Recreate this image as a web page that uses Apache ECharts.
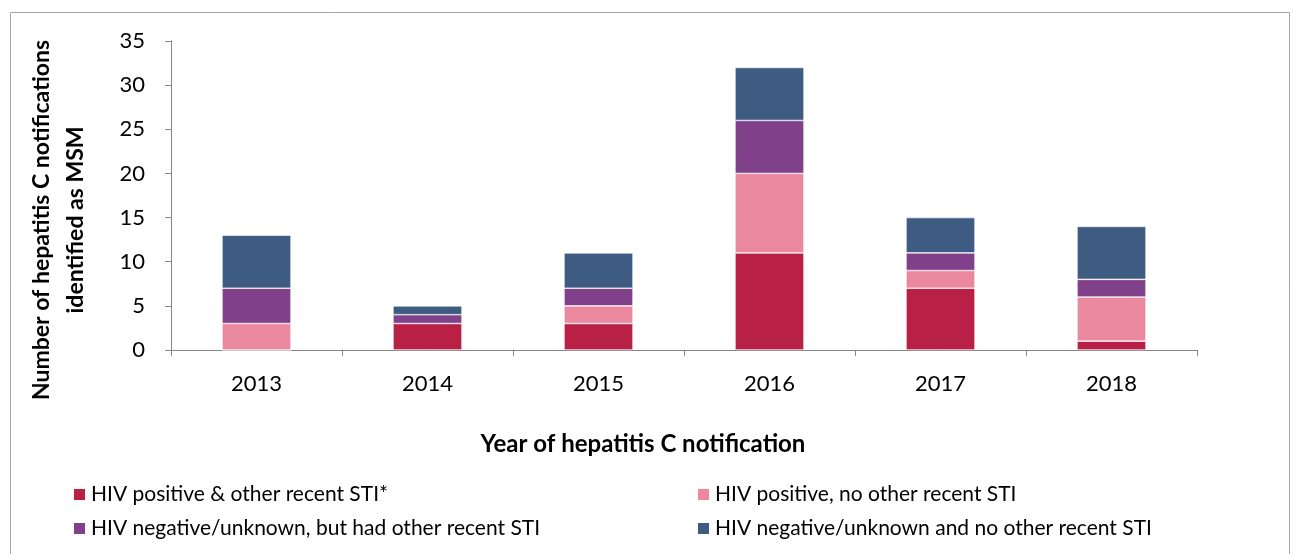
<!DOCTYPE html>
<html><head><meta charset="utf-8">
<script src="https://cdn.jsdelivr.net/npm/echarts@6/dist/echarts.min.js"></script>
<style>html,body{margin:0;padding:0;background:#fff}#c{width:1293px;height:554px}</style>
</head><body><div id="c"></div>
<script>
const categories = ['2013','2014','2015','2016','2017','2018'];
const seriesNames = ['HIV positive & other recent STI*','HIV positive, no other recent STI','HIV negative/unknown, but had other recent STI','HIV negative/unknown and no other recent STI'];
const hivPosSti = [0, 3, 3, 11, 7, 1];
const hivPosNoSti = [3, 0, 2, 9, 2, 5];
const hivNegSti = [4, 1, 2, 6, 2, 2];
const hivNegNoSti = [6, 1, 4, 6, 4, 6];
const yTitle = 'Number of hepatitis C notifications\nidentified as MSM';
const xTitle = 'Year of hepatitis C notification';
const colors = ['#B92046','#E9889F','#81418A','#3E5C82'];
const values = [hivPosSti, hivPosNoSti, hivNegSti, hivNegNoSti];
const font = 'Lato, "Open Sans", sans-serif';
const chart = echarts.init(document.getElementById('c'));
const legendText = {fontSize: 21, color: '#000', fontFamily: font};
chart.setOption({
  animation: false,
  graphic: [
    {type:'rect', shape:{x:10.5,y:12.5,width:1279,height:560}, style:{fill:'none', stroke:'#a6a6a6', lineWidth:1}, silent:true},
    {type:'text', x:59, y:220, rotation:Math.PI/2, style:{text:yTitle, align:'center', verticalAlign:'middle', font:'bold 23px Lato, sans-serif', lineHeight:34, fill:'#000'}, silent:true},
    {type:'text', x:643, y:444, style:{text:xTitle, align:'center', verticalAlign:'middle', font:'bold 24px Lato, sans-serif', fill:'#000'}, silent:true}
  ],
  grid: {left:171, right:96, top:41, bottom:204, containLabel:false, outerBoundsMode:'none'},
  legend: [
    {data:[seriesNames[0], seriesNames[2]], orient:'vertical', left:72, top:484, padding:0, itemWidth:13, itemHeight:13, itemGap:13, icon:'rect', textStyle:legendText},
    {data:[seriesNames[1], seriesNames[3]], orient:'vertical', left:696, top:484, padding:0, itemWidth:13, itemHeight:13, itemGap:13, icon:'rect', textStyle:legendText}
  ],
  xAxis: {
    type:'category', data:categories,
    axisLine:{lineStyle:{color:'#868686'}},
    axisTick:{show:true, length:6, lineStyle:{color:'#868686'}},
    axisLabel:{fontSize:22, color:'#000', margin:23, fontFamily:font}
  },
  yAxis: {
    type:'value', min:0, max:35, interval:5,
    axisLine:{show:true, lineStyle:{color:'#868686'}},
    axisTick:{show:true, length:6, lineStyle:{color:'#868686'}},
    axisLabel:{fontSize:22, color:'#000', margin:26, fontFamily:font},
    splitLine:{show:false}
  },
  series: seriesNames.map((n,i)=>({
    name:n, type:'bar', stack:'total', data:values[i], barWidth:69,
    itemStyle:{color:colors[i], borderColor:'#fff', borderWidth:0.6}
  }))
});
</script></body></html>
